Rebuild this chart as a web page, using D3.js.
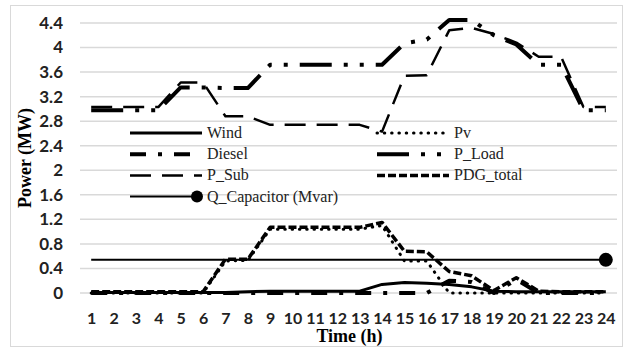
<!DOCTYPE html>
<html><head><meta charset="utf-8">
<script src="https://cdn.jsdelivr.net/npm/d3@7"></script>
<style>body{margin:0;background:#fff}</style>
</head><body>
<svg id="c" width="632" height="348"></svg>
<script>
const hours = [1,2,3,4,5,6,7,8,9,10,11,12,13,14,15,16,17,18,19,20,21,22,23,24];
const wind = [0.01,0.01,0.01,0.01,0.01,0.01,0.01,0.02,0.03,0.03,0.03,0.03,0.03,0.14,0.17,0.16,0.14,0.10,0.03,0.02,0.02,0.02,0.02,0.02];
const pv = [0,0,0,0,0,0,0.52,0.53,1.04,1.04,1.04,1.04,1.04,1.10,0.52,0.52,0,0,0,0,0,0,0,0];
const diesel = [0,0,0,0,0,0,0,0,0,0,0,0,0,0,0,0,0.20,0.18,0,0.22,0,0,0,0];
const pLoad = [2.98,2.98,2.98,2.98,3.35,3.35,3.34,3.34,3.72,3.72,3.72,3.72,3.72,3.72,4.07,4.13,4.45,4.45,4.20,4.05,3.72,3.72,2.98,2.98];
const pSub = [3.03,3.03,3.03,3.03,3.43,3.43,2.88,2.88,2.74,2.74,2.74,2.74,2.74,2.63,3.54,3.55,4.28,4.32,4.22,4.08,3.85,3.85,3.03,3.03];
const pdgTotal = [0.02,0.02,0.02,0.02,0.02,0.02,0.55,0.55,1.07,1.07,1.07,1.07,1.07,1.15,0.68,0.67,0.35,0.28,0.04,0.25,0.03,0.02,0.02,0.02];
const qCap = [0.54,0.54,0.54,0.54,0.54,0.54,0.54,0.54,0.54,0.54,0.54,0.54,0.54,0.54,0.54,0.54,0.54,0.54,0.54,0.54,0.54,0.54,0.54,0.54];
const yTicks = [0,0.4,0.8,1.2,1.6,2,2.4,2.8,3.2,3.6,4,4.4];
const yTickLabels = ["0","0.4","0.8","1.2","1.6","2","2.4","2.8","3.2","3.6","4","4.4"];
const seriesNames = ["Wind","Pv","Diesel","P_Load","P_Sub","PDG_total","Q_Capacitor (Mvar)"];

const styles = {
  "Wind": {w:3, dash:null, cap:"butt"},
  "Pv": {w:3, dash:"0.5 6.8", cap:"round"},
  "Diesel": {w:4, dash:"16 12 4 12", cap:"butt"},
  "P_Load": {w:4, dash:"32 12 4 12 4 12", cap:"butt"},
  "P_Sub": {w:2.5, dash:"21 11", cap:"butt"},
  "PDG_total": {w:3.5, dash:"8 3", cap:"butt"},
  "Q_Capacitor (Mvar)": {w:2, dash:null, cap:"butt", marker:true}
};
const values = [wind, pv, diesel, pLoad, pSub, pdgTotal, qCap];
const series = seriesNames.map((n,i)=>({name:n, vals:values[i]}));

const serif = "'Liberation Serif', 'Times New Roman', Times, serif";
const sans = "Lato, 'Liberation Sans', sans-serif";

const svg = d3.select("#c");
svg.append("rect").attr("x",10.5).attr("y",5.5).attr("width",612).attr("height",341)
  .attr("fill","#fff").attr("stroke","#d9d9d9").attr("stroke-width",1);

const x = d3.scalePoint().domain(hours).range([80,617]).padding(0.5);
const y = d3.scaleLinear().domain([0,4.4]).range([293,23]);

// gridlines
svg.append("g").selectAll("line").data(yTicks).join("line")
  .attr("x1",80).attr("x2",617).attr("y1",d=>y(d)).attr("y2",d=>y(d))
  .attr("stroke","#d9d9d9").attr("stroke-width",1.5);

// axes
const yAxis = svg.append("g").attr("transform","translate(80,0)")
  .call(d3.axisLeft(y).tickValues(yTicks).tickSize(0).tickPadding(17)
    .tickFormat((d,i)=>yTickLabels[i]));
yAxis.select(".domain").remove();
yAxis.selectAll("text").attr("font-family",sans)
  .attr("font-weight","bold").attr("font-size",17).attr("fill","#222");

const xAxis = svg.append("g").attr("transform","translate(0,293)")
  .call(d3.axisBottom(x).tickSize(0).tickPadding(20));
xAxis.select(".domain").remove();
xAxis.selectAll("text").attr("font-family",sans)
  .attr("font-weight","bold").attr("font-size",16).attr("fill","#222");

// titles
svg.append("text").attr("transform","translate(31,158) rotate(-90)")
  .attr("text-anchor","middle").attr("font-family",serif)
  .attr("font-weight","bold").attr("font-size",18).text("Power (MW)");
svg.append("text").attr("x",349.5).attr("y",342)
  .attr("text-anchor","middle").attr("font-family",serif)
  .attr("font-weight","bold").attr("font-size",18).text("Time (h)");

// lines
const line = d3.line().x((d,i)=>x(hours[i])).y(d=>y(d));
const lg = svg.append("g");
series.forEach(s=>{
  const st = styles[s.name];
  lg.append("path").attr("d", line(s.vals)).attr("fill","none")
    .attr("stroke","#000").attr("stroke-width",st.w)
    .attr("stroke-dasharray",st.dash).attr("stroke-linecap",st.cap)
    .attr("stroke-linejoin","round");
  if (st.marker) {
    const last = s.vals.length-1;
    lg.append("circle").attr("cx",x(hours[last])).attr("cy",y(s.vals[last])).attr("r",7).attr("fill","#000");
  }
});

// legend
const legPos = [
  {x:130,y:133},{x:377,y:133},
  {x:130,y:154.2},{x:377,y:154.2},
  {x:130,y:175.4},{x:377,y:175.4},
  {x:130,y:196.6}
];
series.forEach((s,i)=>{
  const st = styles[s.name], p = legPos[i];
  const g = svg.append("g");
  g.append("line").attr("x1",p.x).attr("x2",p.x+72).attr("y1",p.y).attr("y2",p.y)
    .attr("stroke","#000").attr("stroke-width",st.w)
    .attr("stroke-dasharray",st.dash).attr("stroke-linecap",st.cap);
  if (st.marker) g.append("circle").attr("cx",p.x+67).attr("cy",p.y).attr("r",6).attr("fill","#000");
  g.append("text").attr("x",p.x+77).attr("y",p.y+5)
    .attr("font-family",serif).attr("font-size",16).attr("fill","#222")
    .text(s.name);
});
</script>
</body></html>
